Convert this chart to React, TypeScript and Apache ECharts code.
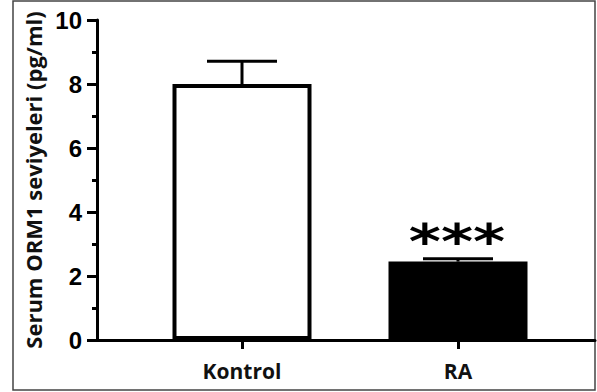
import React, { useEffect, useRef } from "react";
import * as echarts from "echarts";

const categories = ["Kontrol", "RA"];
const means = [8.0, 2.45];
const errors = [0.71, 0.09];
const significance = ["", "***"];
const barFills = ["#ffffff", "#000000"];
const yAxisTitle = "Serum ORM1 seviyeleri (pg/ml)";

export default function App() {
  const ref = useRef<HTMLDivElement>(null);
  useEffect(() => {
    document.body.style.margin = "0";
    const chart = echarts.init(ref.current!, null, { renderer: "svg" });
    const positions = categories.map((_, i) => i + 1);
    chart.setOption({
      animation: false,
      backgroundColor: "#ffffff",
      grid: { left: 97, right: 2, top: 20, bottom: 52 },
      graphic: [
        {
          type: "rect",
          silent: true,
          z: -10,
          shape: { x: 13, y: 1, width: 582, height: 389 },
          style: { fill: "none", stroke: "#444", lineWidth: 1.5 },
        },
      ],
      xAxis: {
        type: "value",
        min: 1 - 145 / 216,
        max: 2 + 137 / 216,
        splitLine: { show: false },
        axisLine: { show: true, lineStyle: { color: "#000", width: 3 } },
        axisTick: {
          show: true,
          customValues: positions,
          length: 9,
          lineStyle: { color: "#000", width: 3 },
        },
        axisLabel: {
          show: true,
          customValues: positions,
          formatter: (v: number) => categories[Math.round(v) - 1] ?? "",
          fontSize: 21,
          fontWeight: "bold",
          fontFamily: "Open Sans",
          color: "#111",
          margin: 20,
        },
      },
      yAxis: {
        type: "value",
        min: 0,
        max: 10,
        interval: 2,
        splitLine: { show: false },
        axisLine: { show: true, lineStyle: { color: "#000", width: 3 } },
        axisTick: { show: true, length: 10, lineStyle: { color: "#000", width: 3 } },
        minorTick: { show: true, splitNumber: 2, length: 5, lineStyle: { color: "#000", width: 3 } },
        axisLabel: {
          fontSize: 24,
          fontWeight: "bold",
          fontFamily: "Liberation Sans",
          color: "#000",
          margin: 15,
        },
        name: yAxisTitle,
        nameLocation: "middle",
        nameGap: 52,
        nameTextStyle: {
          fontSize: 22,
          fontWeight: "bold",
          fontFamily: "Open Sans",
          color: "#111",
        },
      },
      series: [
        {
          type: "bar",
          barWidth: 139,
          data: positions.map((p, i) => ({
            value: [p, means[i]],
            itemStyle: { color: barFills[i], borderColor: "#000", borderWidth: 4 },
          })),
          z: 2,
        },
        {
          type: "custom",
          z: 3,
          data: positions.map((p, i) => [p, means[i], errors[i], i]),
          renderItem: (params: any, api: any) => {
            const x = api.value(0);
            const y = api.value(1);
            const e = api.value(2);
            const idx = api.value(3);
            const base = api.coord([x, y]);
            const top = api.coord([x, y + e]);
            const half = 35;
            const children: any[] = [
              {
                type: "line",
                shape: { x1: base[0], y1: base[1], x2: top[0], y2: top[1] },
                style: { stroke: "#000", lineWidth: 3 },
              },
              {
                type: "line",
                shape: { x1: top[0] - half, y1: top[1], x2: top[0] + half, y2: top[1] },
                style: { stroke: "#000", lineWidth: 3 },
              },
            ];
            const sig = significance[idx];
            if (sig) {
              children.push({
                type: "text",
                x: top[0] - 1,
                y: top[1] - 17,
                scaleX: 1.28,
                style: {
                  text: sig,
                  fontSize: 48,
                  fontWeight: "bold",
                  fontFamily: "DejaVu Sans",
                  fill: "#000",
                  align: "center",
                  verticalAlign: "middle",
                },
              });
            }
            return { type: "group", children };
          },
        },
      ],
    });
    return () => chart.dispose();
  }, []);
  return <div ref={ref} style={{ width: 597, height: 392 }} />;
}
